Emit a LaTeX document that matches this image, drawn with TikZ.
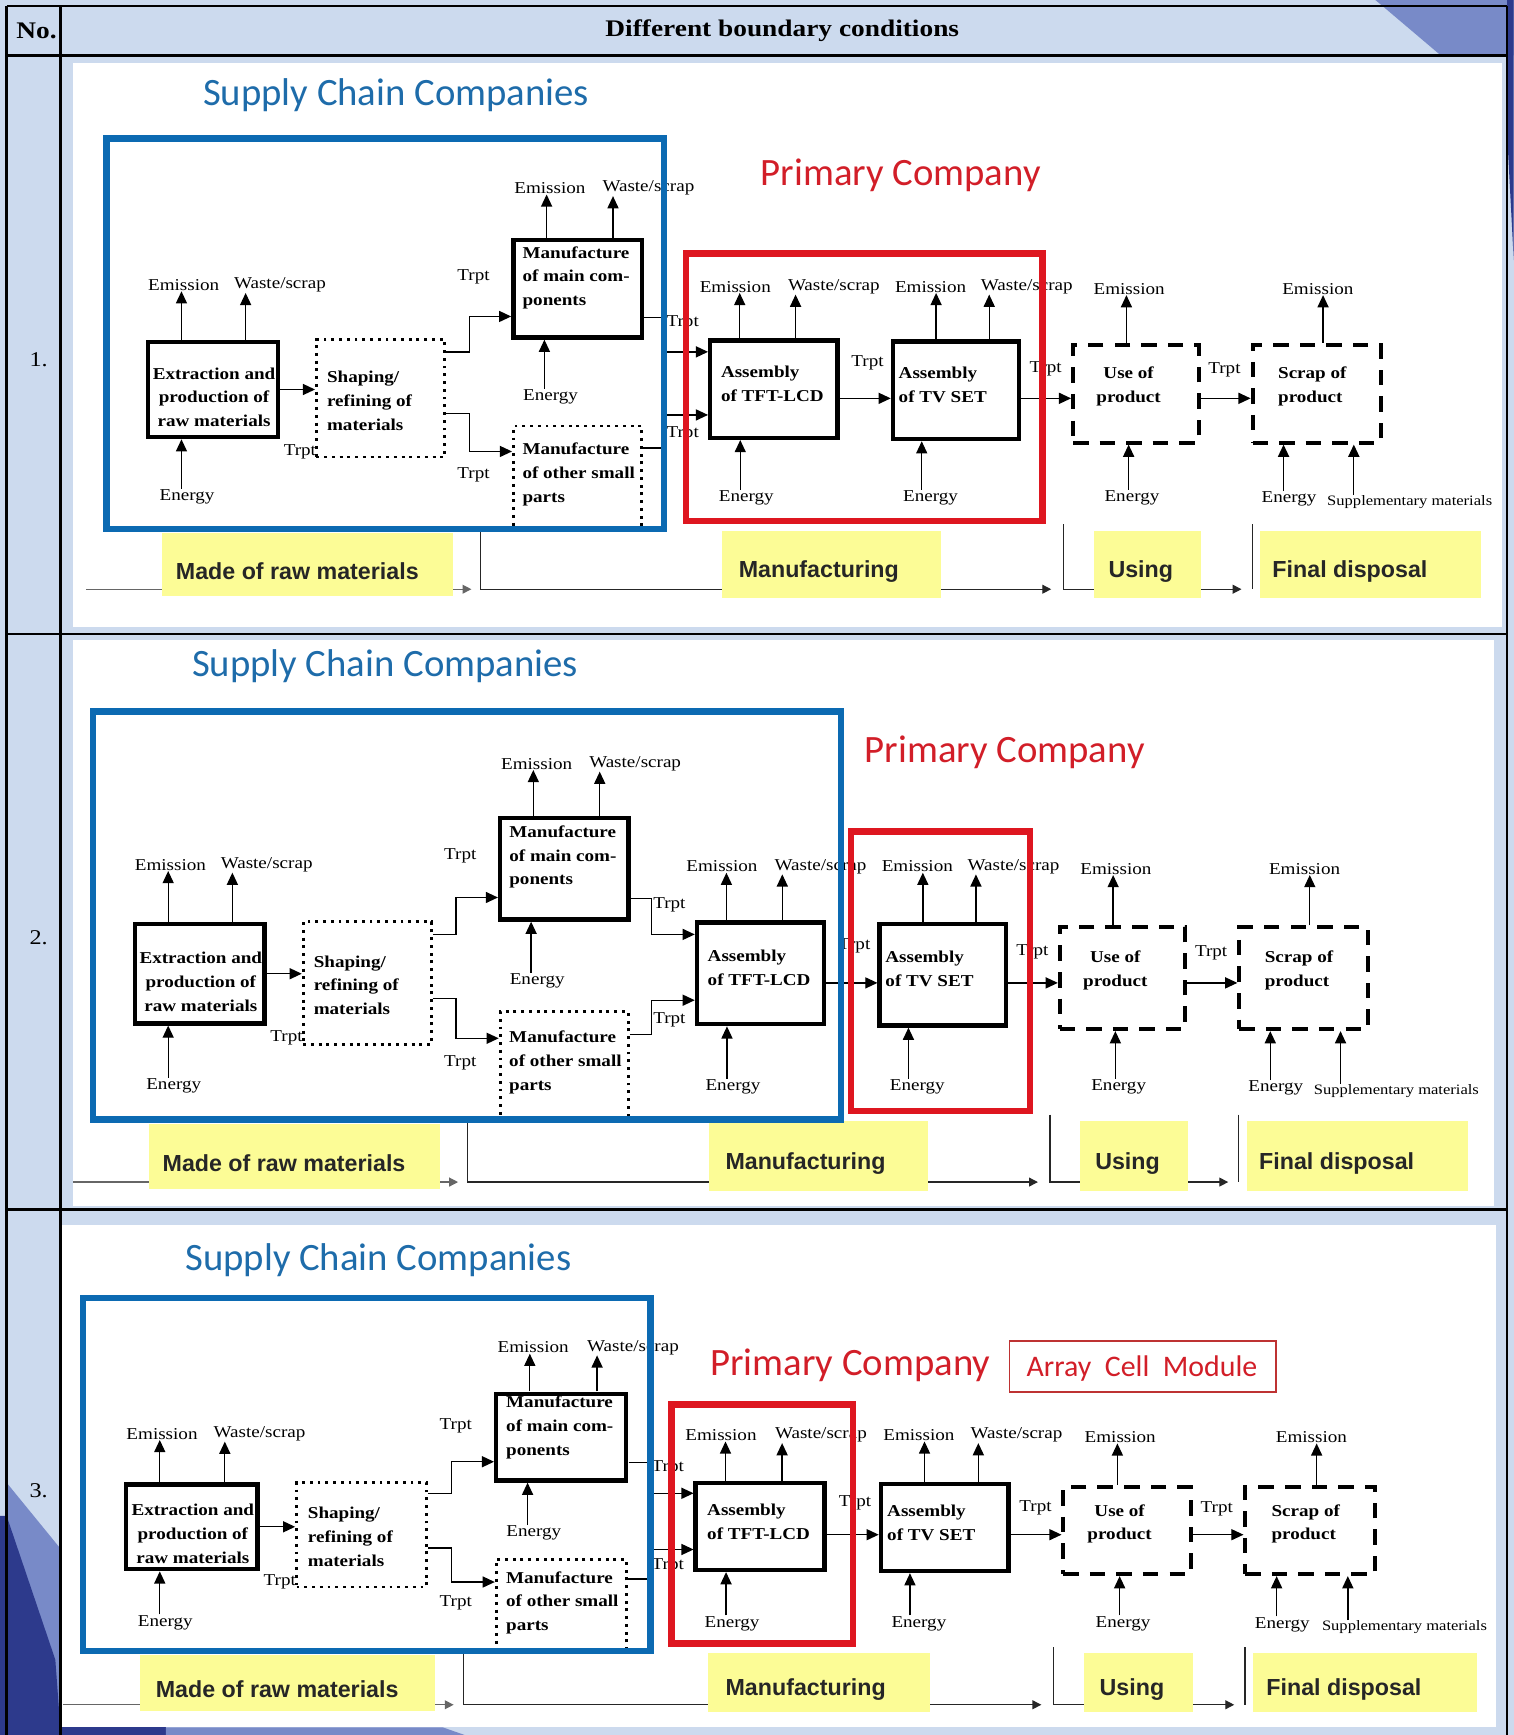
\documentclass[tikz,border=0pt]{standalone}
\usepackage{fontspec}
\setmainfont{Liberation Serif}[FakeStretch=1.15]
\newfontfamily\calib{Carlito}
\newfontfamily\arialf{Liberation Sans}
\usetikzlibrary{arrows.meta}

\definecolor{bgblue}{RGB}{204,218,238}
\definecolor{bluebox}{RGB}{12,106,178}
\definecolor{redbox}{RGB}{222,22,32}
\definecolor{titleblue}{RGB}{30,108,170}
\definecolor{titlered}{RGB}{210,30,40}
\definecolor{yell}{RGB}{252,252,150}
\definecolor{navy}{RGB}{45,58,140}
\definecolor{peri}{RGB}{120,138,200}
\definecolor{acmred}{RGB}{190,50,50}

\tikzset{
 pbox/.style={draw, line width=4pt, inner sep=0pt},
 dotbox/.style={draw, line width=2.6pt, dash pattern=on 2.6pt off 4.4pt, inner sep=0pt},
 dashbox/.style={draw, line width=3.5pt, dash pattern=on 14pt off 10pt, inner sep=0pt},
 btxt/.style={font=\bfseries\fontsize{15}{21.5}\selectfont, inner sep=0pt},
 lab/.style={font=\fontsize{15}{15}\selectfont, inner sep=0.5pt},
 slab/.style={font=\fontsize{13}{13}\selectfont, inner sep=0.5pt},
 arr/.style={line width=1.2pt, -{Triangle[length=11pt,width=10pt]}},
 tl/.style={line width=1.1pt, draw=black!85},
 tlarr/.style={tl, -{Triangle[length=8pt,width=8pt]}},
 ybox/.style={fill=yell, inner sep=0pt},
 ytxt/.style={font=\arialf\bfseries\fontsize{21}{21}\selectfont, text=black!85, inner sep=0pt},
 ttl/.style={font=\calib\fontsize{35}{35}\selectfont, inner sep=0pt, anchor=base},
 bluebx/.style={draw=bluebox, line width=6pt},
 redbx/.style={draw=redbox, line width=6pt},
 tab/.style={line width=2.5pt, draw=black},
 hdr/.style={font=\bfseries\fontsize{21.5}{21.5}\selectfont, inner sep=0pt},
 rno/.style={font=\fontsize{19}{19}\selectfont, inner sep=0pt},
}

\newcommand\flowrow[5]{%
\begin{scope}[shift={(#2,#3)},xscale=#4,yscale=#5]
\def\rsx{#4}\def\rsy{#5}
% timeline
\coordinate (#1tA) at (78,532.5);
\coordinate (#1tB) at (426,532.5);
\coordinate (#1v1) at (434.5,480);
\coordinate (#1v1b) at (434.5,532.5);
\coordinate (#1tC) at (950,532.5);
\coordinate (#1v2) at (961,474);
\coordinate (#1v2b) at (961,532.5);
\coordinate (#1tD) at (1122,532.5);
\coordinate (#1v3) at (1131.6,474);
\coordinate (#1v3b) at (1131.6,532.5);
\draw[tlarr,draw=black!60] (#1tA) -- (#1tB);
\draw[tlarr] (#1v1) -- (#1v1b) -- (#1tC);
\draw[tlarr] (#1v2) -- (#1v2b) -- (#1tD);
\draw[tl] (#1v3) -- (#1v3b);
% yellow phase labels
\node[ybox, minimum width=\rsx*263.5pt, minimum height=\rsy*57pt] (#1y1) at (278,510.5) {};
\node[ytxt] (#1y1t) at (268.7,516.6) {Made of raw materials};
\node[ybox, minimum width=\rsx*198pt, minimum height=\rsy*60pt] (#1y2) at (751.6,510) {};
\node[ytxt] (#1y2t) at (740,516.6) {Manufacturing};
\node[ybox, minimum width=\rsx*97.5pt, minimum height=\rsy*60pt] (#1y3) at (1037,510) {};
\node[ytxt] (#1y3t) at (1031,516.6) {Using};
\node[ybox, minimum width=\rsx*200pt, minimum height=\rsy*60pt] (#1y4) at (1238.8,510) {};
\node[ytxt] (#1y4t) at (1220,516.6) {Final disposal};
% process boxes
\node[pbox, minimum width=\rsx*117pt, minimum height=\rsy*86pt] (#1ext) at (192.5,352) {};
\node[btxt, align=center] (#1extT) at (193.5,359) {Extraction and\\production of\\raw materials};
\node[dotbox, minimum width=\rsx*116pt, minimum height=\rsy*106pt] (#1shp) at (344,360) {};
\node[btxt, align=left] (#1shpT) at (334,362) {Shaping/\\refining of\\materials};
\node[pbox, minimum width=\rsx*116pt, minimum height=\rsy*88pt] (#1mmc) at (522,261) {};
\node[btxt, align=left] (#1mmcT) at (520.7,251) {Manufacture\\of main com-\\ponents};
\node[dotbox, minimum width=\rsx*116pt, minimum height=\rsy*93.6pt] (#1msp) at (522,431.8) {};
\node[btxt, align=left] (#1mspT) at (523,429) {Manufacture\\of other small\\parts};
\node[pbox, minimum width=\rsx*115pt, minimum height=\rsy*88pt] (#1tft) at (699.4,351.7) {};
\node[btxt, align=left] (#1tftT) at (698,347) {Assembly\\of TFT-LCD};
\node[pbox, minimum width=\rsx*114pt, minimum height=\rsy*88pt] (#1tv) at (864,352.8) {};
\node[btxt, align=left] (#1tvT) at (852,348) {Assembly\\of TV SET};
\node[dashbox, minimum width=\rsx*113.5pt, minimum height=\rsy*88.5pt] (#1use) at (1026.5,355.8) {};
\node[btxt, align=center] (#1useT) at (1020,349) {Use of\\product};
\node[dashbox, minimum width=\rsx*116pt, minimum height=\rsy*88.5pt] (#1scr) at (1190,355.8) {};
\node[btxt, align=left] (#1scrT) at (1186,349) {Scrap of\\product};
% labels
\node[lab] (#1extE) at (166,257.5) {Emission};
\node[lab] (#1extW) at (253,257.5) {Waste/scrap};
\node[lab] (#1extN) at (169,449) {Energy};
\node[lab] (#1mmcE) at (497,170) {Emission};
\node[lab] (#1mmcW) at (586,170) {Waste/scrap};
\node[lab] (#1mmcN) at (497.5,358.4) {Energy};
\node[lab] (#1tftE) at (664.5,259) {Emission};
\node[lab] (#1tftW) at (753.6,259) {Waste/scrap};
\node[lab] (#1tftN) at (674.4,450) {Energy};
\node[lab] (#1tvE) at (841,259) {Emission};
\node[lab] (#1tvW) at (928,259) {Waste/scrap};
\node[lab] (#1tvN) at (841,450) {Energy};
\node[lab] (#1useE) at (1020.5,261) {Emission};
\node[lab] (#1useN) at (1023,450) {Energy};
\node[lab] (#1scrE) at (1191,261) {Emission};
\node[lab] (#1scrN) at (1165,451) {Energy};
\node[slab] (#1scrS) at (1274,454) {Supplementary materials};
\node[lab] (#1tr1) at (271,408) {Trpt};
\node[lab] (#1tr2) at (428,250) {Trpt};
\node[lab] (#1tr3) at (428,429) {Trpt};
\node[lab] (#1tr4) at (617,292) {Trpt};
\node[lab] (#1tr5) at (617,392) {Trpt};
\node[lab] (#1tr6) at (784,328) {Trpt};
\node[lab] (#1tr7) at (945,333) {Trpt};
\node[lab] (#1tr8) at (1106.6,334) {Trpt};
% emission / energy arrows
\draw[arr] (#1ext.north -| 164,0) -- (#1extE.south -| 164,0);
\draw[arr] (#1ext.north -| 222,0) -- (#1extW.south -| 222,0);
\draw[arr] (#1extN.north -| 164,0) -- (#1ext.south -| 164,0);
\draw[arr] (#1mmc.north -| 494,0) -- (#1mmcE.south -| 494,0);
\draw[arr] (#1mmc.north -| 554,0) -- (#1mmcW.south -| 554,0);
\draw[arr] (#1mmcN.north -| 492,0) -- (#1mmc.south -| 492,0);
\draw[arr] (#1tft.north -| 668.5,0) -- (#1tftE.south -| 668.5,0);
\draw[arr] (#1tft.north -| 719,0) -- (#1tftW.south -| 719,0);
\draw[arr] (#1tftN.north -| 669,0) -- (#1tft.south -| 669,0);
\draw[arr] (#1tv.north -| 846,0) -- (#1tvE.south -| 846,0);
\draw[arr] (#1tv.north -| 894,0) -- (#1tvW.south -| 894,0);
\draw[arr] (#1tvN.north -| 833,0) -- (#1tv.south -| 833,0);
\draw[arr] (#1use.north -| 1018,0) -- (#1useE.south -| 1018,0);
\draw[arr] (#1useN.north -| 1020,0) -- (#1use.south -| 1020,0);
\draw[arr] (#1scr.north -| 1195.7,0) -- (#1scrE.south -| 1195.7,0);
\draw[arr] (#1scrN.north -| 1160,0) -- (#1scr.south -| 1160,0);
\draw[arr] (#1scrS.north -| 1223.5,0) -- (#1scr.south -| 1223.5,0);
% flow connectors
\draw[arr] (#1ext.east) -- (#1ext.east -| #1shp.west);
\draw[arr] (#1shp.east |- 0,318) -| (424,286) -- (#1mmc.west |- 0,286);
\draw[arr] (#1shp.east |- 0,373.5) -| (424,408) -- (#1msp.west |- 0,408);
\draw[arr] (#1mmc.east |- 0,287) -| (601,318) -- (#1tft.west |- 0,318);
\draw[arr] (#1msp.east |- 0,405) -| (601,375) -- (#1tft.west |- 0,375);
\draw[arr] (#1tft.east |- 0,360) -- (#1tv.west |- 0,360);
\draw[arr] (#1tv.east |- 0,360) -- (#1use.west |- 0,360);
\draw[arr] (#1use.east |- 0,360) -- (#1scr.west |- 0,360);
\end{scope}}

\begin{document}
\begin{tikzpicture}[x=1pt,y=-1pt]
\useasboundingbox (0,0) rectangle (1368,1568);
% background
\fill[bgblue] (0,0) rectangle (1368,1568);
\fill[peri] (1243,0) -- (1368,0) -- (1368,50) -- (1302,50) -- cycle;
\fill[navy] (1362,0) -- (1368,0) -- (1368,235) -- (1362,120) -- cycle;
\fill[peri] (6,1340) -- (55,1400) -- (55,1568) -- (6,1568) -- cycle;
\fill[navy] (0,1370) -- (6,1370) -- (50,1500) -- (55,1568) -- (0,1568) -- cycle;
\fill[navy] (55,1561) rectangle (150,1568);
\fill[peri] (150,1561) -- (400,1561) -- (420,1568) -- (150,1568) -- cycle;
% white panels
\fill[white] (66,57) rectangle (1357,567);
\fill[white] (66,578) rectangle (1350,1090);
\fill[white] (56,1107) rectangle (1352,1561);
% table lines
\draw[tab] (6,5.5) -- (1362,5.5);
\draw[tab] (6,5.5) -- (6,1568);
\draw[tab] (55,5.5) -- (55,1568);
\draw[tab] (1362,5.5) -- (1362,1568);
\draw[tab] (6,50) -- (1362,50);
\draw[tab] (6,573) -- (1362,573);
\draw[tab] (6,1093) -- (1362,1093);
% header and row numbers
\node[hdr] (hno) at (33,28) {No.};
\node[hdr] (hdc) at (707,28) {Different boundary conditions};
\node[rno] (n1) at (35,325) {1.};
\node[rno] (n2) at (35,847) {2.};
\node[rno] (n3) at (35,1347) {3.};
% rows
\flowrow{r1}{0}{0}{1}{1}
\flowrow{r2}{-12}{512.8}{1}{1.043}
\flowrow{r3}{-21.8}{1066.2}{1.0134}{0.891}
% row 1 boundaries
\draw[bluebx] (96,125) rectangle (600,478);
\draw[redbx] (620,229) rectangle (942,471);
\node[ttl, text=titleblue] (r1sc) at (358,95) {Supply Chain Companies};
\node[ttl, text=titlered] (r1pc) at (814,168) {Primary Company};
% row 2 boundaries
\draw[bluebx] (84,643) rectangle (760,1012);
\draw[redbx] (769,751.5) rectangle (931,1004);
\node[ttl, text=titleblue] (r2sc) at (348,611) {Supply Chain Companies};
\node[ttl, text=titlered] (r2pc) at (908,689) {Primary Company};
% row 3 boundaries
\draw[bluebx] (75,1173) rectangle (588,1492);
\draw[redbx] (607,1269.5) rectangle (771,1485);
\node[ttl, text=titleblue] (r3sc) at (342,1148) {Supply Chain Companies};
\node[ttl, text=titlered] (r3pc) at (768.5,1243) {Primary Company};
\node[draw=acmred, line width=1.5pt, minimum width=241pt, minimum height=46pt, inner sep=0pt] (acm) at (1032.7,1235) {};
\node[font=\calib\fontsize{27}{27}\selectfont, text=titlered, anchor=base, inner sep=0pt] (acmt) at (1032,1244) {Array\ \ Cell\ \ Module};
\end{tikzpicture}
\end{document}
